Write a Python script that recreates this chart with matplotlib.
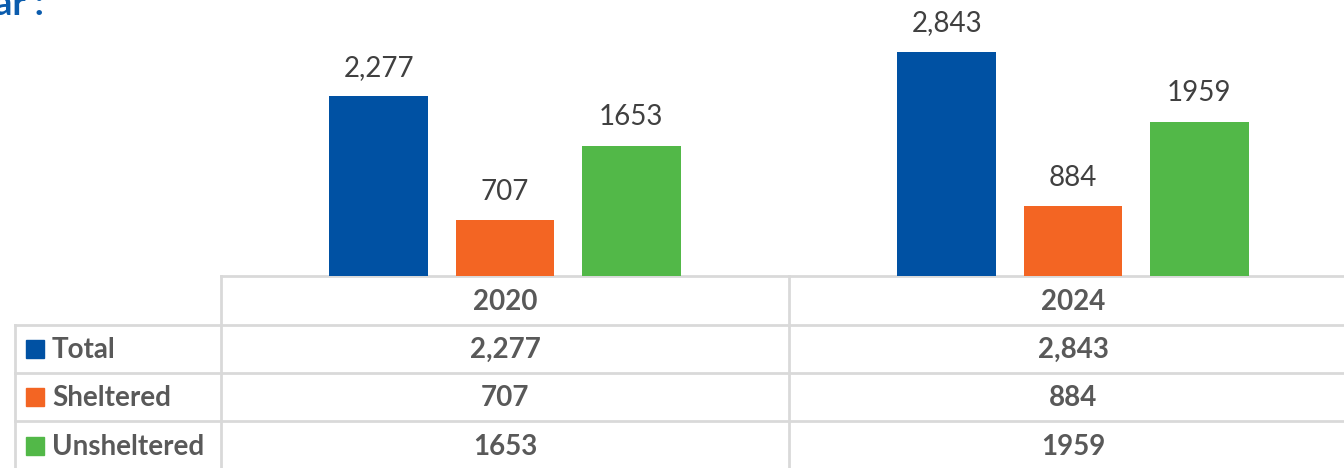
import matplotlib.pyplot as plt
from matplotlib.lines import Line2D
from matplotlib.patches import Rectangle
import numpy as np

plt.rcParams['font.family'] = ['Lato', 'DejaVu Sans']

# data
years = ['2020', '2024']
series = ['Total', 'Sheltered', 'Unsheltered']
total = [2277, 2843]
sheltered = [707, 884]
unsheltered = [1653, 1959]
bar_labels = [['2,277', '2,843'], ['707', '884'], ['1653', '1959']]
colors = ['#0051A3', '#F36523', '#52B848']

W, H = 1344, 468
fig = plt.figure(figsize=(W / 100, H / 100), dpi=100)

# bar chart axes: category band 2020 spans px 221..789, baseline at px 276
ax = fig.add_axes([221 / W, 1 - 276 / H, (1357 - 221) / W, 276 / H])
x = np.arange(len(years))
width = 0.174
offset = 0.222
for i, vals in enumerate([total, sheltered, unsheltered]):
    bars = ax.bar(x + (i - 1) * offset, vals, width, color=colors[i])
    for b, lab in zip(bars, bar_labels[i]):
        ax.annotate(lab, (b.get_x() + b.get_width() / 2, b.get_height()),
                    xytext=(0, 11), textcoords='offset points',
                    ha='center', va='bottom', fontsize=20, color='#404040')
ax.set_xlim(-0.5, 1.5)
ax.set_ylim(0, 3500)
ax.axis('off')

# data table below, drawn in pixel coords
tab = fig.add_axes([0, 0, 1, 1], zorder=-1)
tab.set_xlim(0, W)
tab.set_ylim(H, 0)
tab.axis('off')
lc = '#D9D9D9'
lw = 2
rows_y = [276, 325, 373, 421, 470]
col_x = [15, 221, 789, 1357]
tab.add_line(Line2D([221, W], [276, 276], color=lc, lw=lw))
for y in rows_y[1:4]:
    tab.add_line(Line2D([15, W], [y, y], color=lc, lw=lw))
tab.add_line(Line2D([15, 15], [325, H], color=lc, lw=lw))
tab.add_line(Line2D([221, 221], [276, H], color=lc, lw=lw))
tab.add_line(Line2D([789, 789], [276, H], color=lc, lw=lw))

tc = '#595959'
for j, yr in enumerate(years):
    cx = (col_x[j + 1] + col_x[j + 2]) / 2
    tab.text(cx, (rows_y[0] + rows_y[1]) / 2 + 1, yr, ha='center', va='center',
             fontsize=20, fontweight='bold', color=tc)
    for i in range(3):
        cy = (rows_y[i + 1] + rows_y[i + 2]) / 2 if i < 2 else 446
        tab.text(cx, cy + 1, bar_labels[i][j], ha='center', va='center',
                 fontsize=20, fontweight='bold', color=tc)

for i, name in enumerate(series):
    cy = (rows_y[i + 1] + rows_y[i + 2]) / 2 if i < 2 else 446
    tab.add_patch(Rectangle((26, cy - 9), 18, 18, color=colors[i]))
    tab.text(52, cy + 1, name, ha='left', va='center', fontsize=20,
             fontweight='bold', color=tc)

# cut-off heading fragment at top left
fig.text(44 / W, 1 - 15 / H, 'ar :', ha='right', va='baseline', fontsize=26,
         fontweight='bold', color='#0B5CAD')

fig.savefig('out.png', dpi=100)
